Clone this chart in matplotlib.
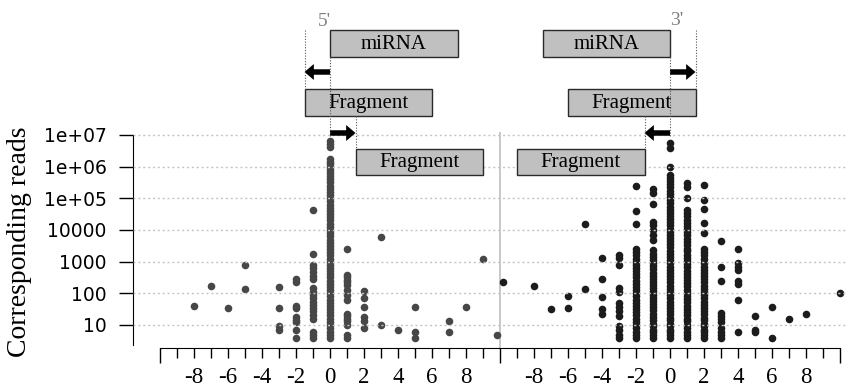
import numpy as np
import matplotlib
matplotlib.use('Agg')
import matplotlib.pyplot as plt
from matplotlib.patches import Rectangle, FancyArrow
from matplotlib.ticker import NullLocator

# reads per fragment, grouped by end offset relative to the miRNA end
five_offsets = [-8, -7, -6, -5, -3, -2, -1, 0, 1, 2, 3, 4, 5, 7, 8, 9, 9.8]
five_reads = [
    [41], [170], [35], [800, 140], [160, 35, 9, 7],
    [280, 230, 40, 34, 18, 14, 12, 7, 4],
    [43000, 1700, 780, 610, 480, 340, 280, 145, 112, 89, 69, 55, 43, 34,
     27, 21, 16, 6, 5, 4],
    [6.6e6, 5.2e6, 4.1e6, 1.8e6, 1.4e6, 1.2e6, 1e6, 8e5, 6.3e5, 5e5, 4e5,
     3.2e5, 2.5e5, 2e5, 1.6e5, 1.25e5, 1e5, 8e4, 6.3e4, 5e4, 4e4, 3.2e4,
     2.5e4, 2e4, 1.6e4, 1.25e4, 1e4, 8000, 6300, 5000, 4000, 3200, 2500,
     2000, 1600, 1250, 1000, 800, 630, 500, 400, 320, 250, 200, 160, 125,
     100, 80, 63, 50, 40, 32, 25, 20, 16, 12, 10, 8, 6, 5, 4],
    [2600, 380, 320, 270, 220, 180, 126, 89, 62, 23, 19, 16, 13, 10, 5, 4],
    [120, 69, 38, 18, 13, 8],
    [6100, 10], [7], [38, 6, 4], [13, 6], [36], [1200], [5],
]

three_offsets = [-9.8, -8, -7, -6, -5, -4, -3, -2, -1, 0, 1, 2, 3, 4, 5, 6, 7, 8, 10]
three_reads = [
    [235], [170], [31], [82, 34], [15500, 140],
    [1300, 290, 78, 31, 23],
    [1600, 1350, 800, 145, 112, 50, 38, 28, 19, 9, 7, 5, 4],
    [2.45e5, 3.9e4, 1.5e4, 2600, 2000, 1600, 1250, 1000, 800, 630, 500,
     400, 320, 250, 200, 160, 125, 100, 80, 63, 50, 40, 32, 25, 20, 16, 12,
     10, 8, 6, 5, 4],
    [1.9e5, 1.45e5, 6.5e4, 1.8e4, 1.45e4, 1e4, 6900, 4800, 2300, 1800,
     1450, 1150, 900, 720, 570, 450, 360, 290, 230, 180, 145, 115, 90, 72,
     57, 45, 36, 29, 23, 18, 14, 11, 9, 7, 6, 5, 4],
    [5.5e6, 3.8e6, 1e6, 5.5e5, 4.4e5, 3.5e5, 2.8e5, 2.2e5, 1.75e5, 1.4e5,
     1.1e5, 8.8e4, 7e4, 5.5e4, 4.4e4, 3.5e4, 2.8e4, 2.2e4, 1.75e4, 1.4e4,
     1.1e4, 8800, 7000, 5500, 4400, 3500, 2800, 2200, 1750, 1400, 1100, 880,
     700, 550, 440, 350, 280, 220, 175, 140, 110, 88, 70, 55, 44, 35, 28,
     22, 17, 14, 11, 9, 7, 6, 5, 4],
    [3.1e5, 2.35e5, 1e5, 4.3e4, 3.4e4, 2.7e4, 2.1e4, 1.7e4, 1.35e4, 1.05e4,
     8500, 6700, 5300, 4200, 3300, 2600, 2100, 1650, 1300, 1050, 830, 660,
     520, 410, 330, 260, 205, 165, 130, 100, 82, 65, 52, 41, 33, 26, 20, 16,
     13, 10, 8, 6, 5, 4],
    [2.65e5, 8.9e4, 4.6e4, 1.7e4, 8000, 2600, 2000, 1600, 1250, 900, 690,
     550, 440, 350, 280, 220, 175, 140, 110, 88, 70, 55, 44, 35, 28, 22, 17,
     14, 11, 9, 7, 6, 5, 4],
    [4600, 690, 250, 24, 19, 15, 12, 8, 6, 5, 4],
    [2500, 930, 690, 550, 250, 195, 62, 6],
    [19, 7, 6], [38, 4], [16], [22], [100],
]

ytick_values = [10, 100, 1000, 10000, 1e5, 1e6, 1e7]
ytick_labels = ['10', '100', '1000', '10000', '1e+05', '1e+06', '1e+07']
offset_labels = [-8, -6, -4, -2, 0, 2, 4, 6, 8]

W, H = 846, 391
SHIFT = 20          # the 3' panel is drawn 20 offset units to the right
PX = 17.0           # pixels per offset unit
X0 = 160.0          # pixel column of offset -10
Y10, DEC = 325.0, 31.67
BASE = 347.7        # pixel row of the offset axis


def px_x(px):
    return -10 + (px - X0) / PX


def px_y(py):
    return 10 ** (1 + (Y10 - py) / DEC)


def flatten(offsets, reads, shift):
    xs = np.repeat(np.asarray(offsets, float) + shift, [len(r) for r in reads])
    ys = np.concatenate([np.asarray(r, float) for r in reads])
    return xs, ys


plt.rcParams['font.family'] = 'DejaVu Sans'
fig = plt.figure(figsize=(W / 100, H / 100), dpi=100)
ax = fig.add_axes([132.5 / W, (H - BASE) / H, 1 - 132.5 / W, BASE / H])
ax.set_yscale('log')
ax.set_xlim(px_x(132.5), px_x(W))
ax.set_ylim(px_y(BASE), px_y(0))

x5, y5 = flatten(five_offsets, five_reads, 0)
x3, y3 = flatten(three_offsets, three_reads, SHIFT)
ax.scatter(x5, y5, s=30, c='#474747', linewidths=0, zorder=1)
ax.scatter(x3, y3, s=30, c='#1c1c1c', linewidths=0, zorder=1)

ax.axvline(10, ymin=0, ymax=(BASE - 133) / BASE, color='#c4c4c4', lw=1.3, zorder=0.5)

for side in ('top', 'right'):
    ax.spines[side].set_visible(False)
ax.spines['left'].set_bounds(px_y(345), 1e7)
ax.spines['bottom'].set_bounds(-10, 30)
ax.set_axisbelow(False)

ax.set_yticks(ytick_values, ytick_labels)
ax.yaxis.set_minor_locator(NullLocator())
ax.tick_params(axis='y', length=10, width=1, pad=8.5, labelsize=13.5)
ax.yaxis.grid(True, color='#c4c4c4', linestyle=(0, (1.5, 2)), linewidth=1)

ticks, labels = [], []
for shift in (0, SHIFT):
    for v in range(-9, 10):
        ticks.append(v + shift)
        labels.append(str(v) if v in offset_labels else '')
ax.set_xticks(ticks, labels)
ax.set_xticks([-10, 10, 30], minor=True)
ax.tick_params(axis='x', which='major', length=7.2, width=1, pad=7, labelsize=16.5)
ax.tick_params(axis='x', which='minor', length=11, width=1)
for lab in ax.get_xticklabels():
    lab.set_fontfamily('Liberation Serif')

ax.set_ylabel('Corresponding reads', fontsize=20, family='Liberation Serif')
ax.yaxis.set_label_coords((32 - 132.5) / (W - 132.5), (BASE - 242) / BASE)

# schematic of miRNA and fragment ends, x in offset units, y in pixel rows
sk = fig.add_axes([0, 0, 1, 1])
sk.set_xlim(px_x(0), px_x(W))
sk.set_ylim(H, 0)
sk.axis('off')


def box(x0, x1, y0, y1, label):
    sk.add_patch(Rectangle((x0, y0), x1 - x0, y1 - y0, fc='#c0c0c0', ec='#2a2a2a', lw=1))
    sk.text((x0 + x1) / 2, (y0 + y1) / 2 + 1, label, ha='center', va='center',
            fontsize=15, family='Liberation Serif')


def arrow(x_from, x_to, y):
    sk.add_patch(FancyArrow(x_from, y, x_to - x_from, 0, width=5.5, head_width=16,
                            head_length=0.55, length_includes_head=True,
                            color='black', lw=0))


def guide(x, y0, y1):
    sk.plot([x, x], [y0, y1], color='#555555', lw=0.8, ls=(0, (1, 1.5)))


for x, y0, y1 in [(-1.5, 30, 89), (0, 57, 136), (1.5, 116, 149),
                  (21.5, 30, 89), (20, 57, 136), (18.5, 116, 149)]:
    guide(x, y0, y1)

box(0, 7.5, 30, 57, 'miRNA')
arrow(0, -1.5, 72)
box(-1.5, 6, 89, 116, 'Fragment')
arrow(0, 1.5, 133)
box(1.5, 9, 149, 175, 'Fragment')
sk.text(-0.35, 21, "5'", ha='center', va='center', fontsize=14,
        family='Liberation Serif', color='#808080')

box(12.5, 20, 30, 57, 'miRNA')
arrow(20, 21.5, 72)
box(14, 21.5, 89, 116, 'Fragment')
arrow(20, 18.5, 133)
box(11, 18.5, 149, 175, 'Fragment')
sk.text(20.4, 20.5, "3'", ha='center', va='center', fontsize=14,
        family='Liberation Serif', color='#808080')

fig.savefig('out.png', dpi=100)
